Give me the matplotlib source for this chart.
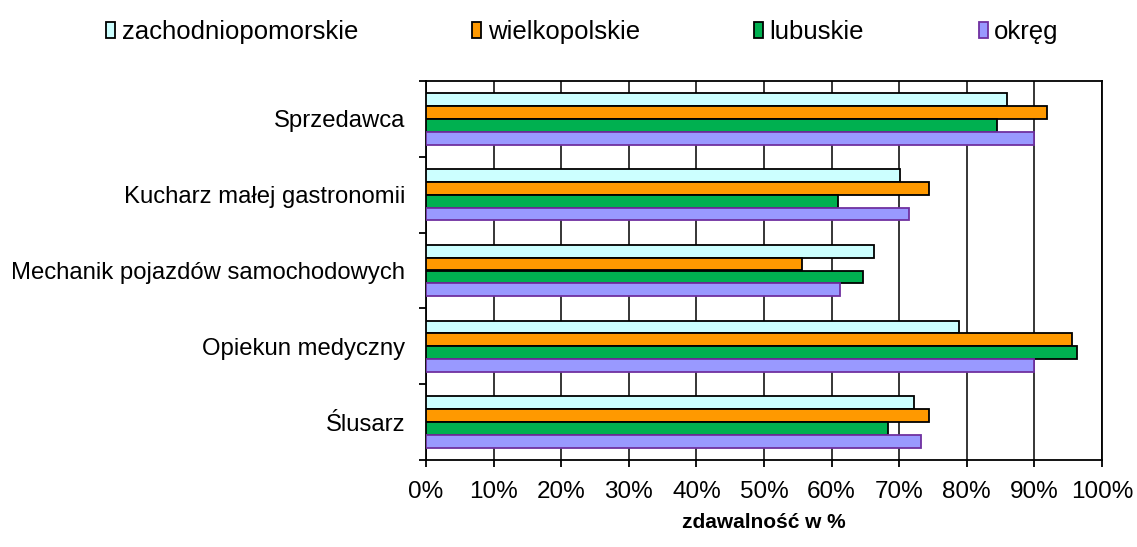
import numpy as np
import matplotlib.pyplot as plt
from matplotlib.ticker import FixedLocator, PercentFormatter

plt.rcParams['font.family'] = ['Liberation Sans', 'DejaVu Sans']

# dane
zawody = ["Sprzedawca", "Kucharz małej gastronomii", "Mechanik pojazdów samochodowych",
          "Opiekun medyczny", "Ślusarz"]
serie = ["zachodniopomorskie", "wielkopolskie", "lubuskie", "okręg"]
zachodniopomorskie = [85.9, 70.1, 66.3, 78.8, 72.2]
wielkopolskie = [91.8, 74.4, 55.6, 95.6, 74.4]
lubuskie = [84.4, 61.0, 64.6, 96.3, 68.4]
okreg = [89.9, 71.4, 61.3, 89.9, 73.2]

kolory = ["#CCFFFF", "#FF9900", "#00B050", "#9999FF"]
krawedzie = ["black", "black", "black", "#7030A0"]

fig = plt.figure(figsize=(11.37, 5.47), dpi=100)
ax = fig.add_axes([426 / 1137, 1 - 460 / 547, 676 / 1137, 379 / 547])

n = len(zawody)
y = np.arange(n)
h = 0.17
wartosci = [zachodniopomorskie, wielkopolskie, lubuskie, okreg]
uchwyty = []
for i, vals in enumerate(wartosci):
    off = (i - 1.5) * h
    b = ax.barh(y + off, vals, height=h, color=kolory[i], edgecolor=krawedzie[i],
                linewidth=1.3, zorder=3, label=serie[i])
    uchwyty.append(b)

ax.set_xlim(0, 100)
ax.set_ylim(n - 0.5, -0.5)
ax.xaxis.set_major_locator(FixedLocator(np.arange(0, 101, 10)))
ax.xaxis.set_major_formatter(PercentFormatter(decimals=0))
ax.grid(axis="x", color="black", linewidth=1.1, zorder=0)

ax.yaxis.set_major_locator(FixedLocator(np.arange(-0.5, n, 1)))
ax.yaxis.set_minor_locator(FixedLocator(y))
ax.set_yticklabels([], minor=False)
ax.set_yticklabels(zawody, minor=True, fontsize=17.2)
ax.tick_params(axis="y", which="major", length=5, width=1.3, direction="out")
ax.tick_params(axis="y", which="minor", length=0, pad=15)
ax.tick_params(axis="x", which="major", length=5, width=1.3, direction="out",
               labelsize=17.5, pad=10)

for s in ax.spines.values():
    s.set_linewidth(1.3)
    s.set_color("black")

ax.set_xlabel("zdawalność w %", fontsize=15, fontweight="bold", labelpad=7)

fig.legend(handles=uchwyty, labels=serie, loc="center left",
           bbox_to_anchor=(96 / 1137, 1 - 32 / 547), ncol=4, frameon=False,
           fontsize=18.5, handlelength=0.35, handleheight=0.6, handletextpad=0.25,
           columnspacing=4.45, borderaxespad=0)

fig.savefig("out.png", dpi=100)
